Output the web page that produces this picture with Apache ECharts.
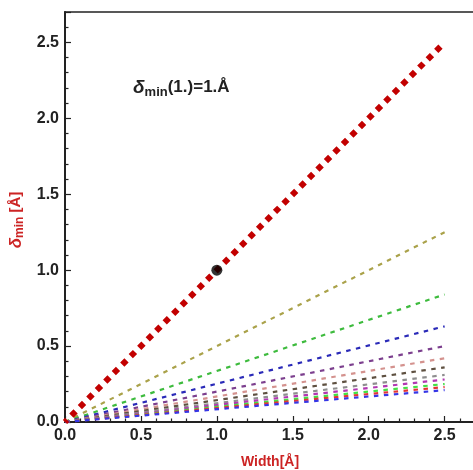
<!DOCTYPE html>
<html>
<head>
<meta charset="utf-8">
<script src="https://cdn.jsdelivr.net/npm/echarts@6/dist/echarts.min.js"></script>
<style>html,body{margin:0;padding:0;background:#fff;}#c{width:473px;height:470px;}</style>
</head>
<body>
<div id="c"></div>
<script>
// Data
var widthStart = 0;
var widthEnd = 2.5;
var diagonalEnd = 2.5;               // red dotted line: delta_min = width
var markedPoint = [1.0, 1.0];        // black dot
// value of each dashed line at width = 2.5
var dashedEndValues = [1.25, 0.84, 0.63, 0.50, 0.42, 0.36, 0.31, 0.28, 0.25, 0.23, 0.21];
var dashedColors = ['#aaa24a', '#3dbb3d', '#2a2ab8', '#7c3f8e', '#d4928e', '#5e5040', '#8e8e8e', '#b236b2', '#44e044', '#e43434', '#3636e6'];
var tickValues = [0, 0.5, 1.0, 1.5, 2.0, 2.5];

var chart = echarts.init(document.getElementById('c'));
var FF = 'Liberation Sans, Arial, sans-serif';
var labelFont = {color: '#222', fontWeight: 'bold', fontSize: 16, fontFamily: FF};
function fmt(v){ return tickValues.indexOf(Math.round(v*10)/10) >= 0 ? v.toFixed(1) : ''; }

var series = [];
dashedEndValues.forEach(function(v, i){
  series.push({
    type: 'line',
    data: [[widthStart, 0], [widthEnd, v]],
    showSymbol: false,
    symbol: 'none',
    lineStyle: {color: dashedColors[i], width: 2.2, type: [4.5, 5.5]},
    silent: true,
    z: 2
  });
});
series.push({
  type: 'line',
  data: [[widthStart, 0], [widthEnd, diagonalEnd]],
  symbol: 'none',
  clip: false,
  lineStyle: {color: '#c20000', width: 6, type: [6, 6], dashOffset: 3, cap: 'butt'},
  z: 5
});
series.push({
  type: 'scatter',
  data: [markedPoint],
  symbol: 'circle',
  symbolSize: 11,
  itemStyle: {color: '#000'},
  z: 20
});

var axisCommon = {
  type: 'value', min: 0, max: 2.7, interval: 0.5,
  axisLine: {show: true, onZero: false, lineStyle: {color: '#222', width: 2}},
  axisTick: {show: true, inside: true, length: 6, lineStyle: {color: '#222', width: 1.2}},
  minorTick: {show: true, splitNumber: 5, length: 3.5, lineStyle: {color: '#222', width: 1.2}},
  splitLine: {show: false},
  axisLabel: Object.assign({showMaxLabel: false, formatter: fmt}, labelFont)
};

chart.setOption({
  animation: false,
  grid: {left: 65, top: 12, width: 410, height: 410, show: true, borderColor: '#222', borderWidth: 1.5,
         outerBoundsMode: 'none', containLabel: false},
  xAxis: Object.assign({}, axisCommon, {
    axisLabel: Object.assign({}, axisCommon.axisLabel, {margin: 6}),
    name: 'Width[Å]', nameLocation: 'middle', nameGap: 33,
    nameTextStyle: {color: '#cc2424', fontWeight: 'bold', fontSize: 14, fontFamily: FF}
  }),
  yAxis: Object.assign({}, axisCommon, {
    axisLabel: Object.assign({}, axisCommon.axisLabel, {margin: 6}),
    name: '{d|δ}{s|min}{n| [Å]}', nameLocation: 'middle', nameGap: 39, nameRotate: 90,
    nameTextStyle: {
      color: '#cc2424', fontWeight: 'bold', fontSize: 15, fontFamily: FF, padding: [0, 6, 0, 0],
      rich: {
        d: {color: '#cc2424', fontWeight: 'bold', fontStyle: 'italic', fontSize: 17, fontFamily: FF},
        s: {color: '#cc2424', fontWeight: 'bold', fontSize: 12, padding: [7, 0, 0, 0], fontFamily: FF},
        n: {color: '#cc2424', fontWeight: 'bold', fontSize: 15, fontFamily: FF}
      }
    }
  }),
  graphic: [{
    type: 'text', left: 133, top: 78, z: 10,
    style: {
      text: '{d|δ}{s|min}{n|(1.)=1.Å}',
      rich: {
        d: {fill: '#222', fontWeight: 'bold', fontStyle: 'italic', fontSize: 19, fontFamily: FF},
        s: {fill: '#222', fontWeight: 'bold', fontSize: 13, padding: [9, 0, 0, 0], fontFamily: FF},
        n: {fill: '#222', fontWeight: 'bold', fontSize: 17, fontFamily: FF}
      }
    }
  }],
  series: series
});
</script>
</body>
</html>
